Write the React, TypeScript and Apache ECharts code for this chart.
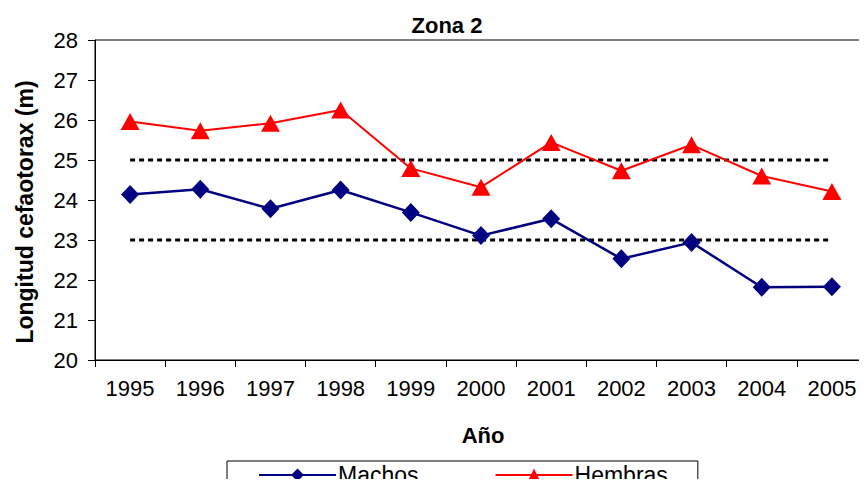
import React, { useEffect, useRef } from "react";
import * as echarts from "echarts";

const years = ["1995", "1996", "1997", "1998", "1999", "2000", "2001", "2002", "2003", "2004", "2005"];
const machos = [24.14, 24.27, 23.78, 24.25, 23.69, 23.11, 23.53, 22.53, 22.94, 21.82, 21.83];
const hembras = [25.96, 25.73, 25.92, 26.25, 24.79, 24.32, 25.44, 24.73, 25.38, 24.6, 24.21];
const upperRef = [25, 25, 25, 25, 25, 25, 25, 25, 25, 25, 25];
const lowerRef = [23, 23, 23, 23, 23, 23, 23, 23, 23, 23, 23];

const FONT = "Liberation Sans, Arial, sans-serif";

export default function App() {
  const ref = useRef<HTMLDivElement>(null);
  useEffect(() => {
    if (!ref.current) return;
    const chart = echarts.init(ref.current, null, { renderer: "svg" });
    chart.setOption({
      animation: false,
      backgroundColor: "#ffffff",
      textStyle: { fontFamily: FONT, color: "#000" },
      title: {
        text: "Zona 2",
        left: 442,
        textAlign: "center",
        top: 9,
        textStyle: { fontFamily: FONT, fontWeight: "bold", fontSize: 22, color: "#000" },
      },
      grid: {
        left: 95,
        top: 40,
        right: -5,
        bottom: 127,
        show: true,
        borderColor: "#000",
        borderWidth: 1,
        backgroundColor: "transparent",
      },
      legend: {
        data: ["Machos", "Hembras"],
        left: 227,
        top: 461,
        padding: [2, 30, 30, 31],
        borderColor: "#000",
        borderWidth: 1,
        itemWidth: 77,
        itemHeight: 16,
        itemGap: 76,
        textStyle: { fontFamily: FONT, fontSize: 23, lineHeight: 24, color: "#000", padding: [0, 0, 0, -3] },
      },
      xAxis: {
        type: "category",
        data: years,
        boundaryGap: true,
        axisLine: { show: true, lineStyle: { color: "#000", width: 1 } },
        axisTick: { show: true, length: 7, inside: false, lineStyle: { color: "#000" } },
        axisLabel: { fontFamily: FONT, fontSize: 22, color: "#000", margin: 17 },
        splitLine: { show: false },
      },
      yAxis: {
        type: "value",
        min: 20,
        max: 28,
        interval: 1,
        axisLine: { show: true, lineStyle: { color: "#000", width: 1 } },
        axisTick: { show: true, length: 7, inside: false, lineStyle: { color: "#000" } },
        axisLabel: { fontFamily: FONT, fontSize: 22, color: "#000", margin: 17 },
        splitLine: { show: false },
      },
      graphic: [
        {
          type: "text",
          x: 25,
          y: 212,
          rotation: Math.PI / 2,
          style: {
            text: "Longitud cefaotorax (m)",
            fontFamily: FONT,
            fontWeight: "bold",
            fontSize: 23,
            fill: "#000",
            align: "center",
            verticalAlign: "middle",
          },
        },
        {
          type: "text",
          x: 483,
          y: 435,
          style: {
            text: "Año",
            fontFamily: FONT,
            fontWeight: "bold",
            fontSize: 22,
            fill: "#000",
            align: "center",
            verticalAlign: "middle",
          },
        },
      ],
      series: [
        {
          name: "ref25",
          type: "line",
          data: upperRef,
          symbol: "none",
          silent: true,
          lineStyle: { color: "#000", width: 3, type: [5, 4] },
          z: 1,
        },
        {
          name: "ref23",
          type: "line",
          data: lowerRef,
          symbol: "none",
          silent: true,
          lineStyle: { color: "#000", width: 3, type: [5, 4] },
          z: 1,
        },
        {
          name: "Machos",
          type: "line",
          data: machos,
          symbol: "diamond",
          symbolSize: [18, 19],
          itemStyle: { color: "#000080" },
          lineStyle: { color: "#000080", width: 2.5 },
          z: 3,
        },
        {
          name: "Hembras",
          type: "line",
          data: hembras,
          symbol: "triangle",
          symbolSize: [19, 17],
          itemStyle: { color: "#ff0000" },
          lineStyle: { color: "#ff0000", width: 2 },
          z: 3,
        },
      ],
    });
    return () => chart.dispose();
  }, []);
  return <div ref={ref} style={{ width: 867, height: 487, margin: -8 }} />;
}
